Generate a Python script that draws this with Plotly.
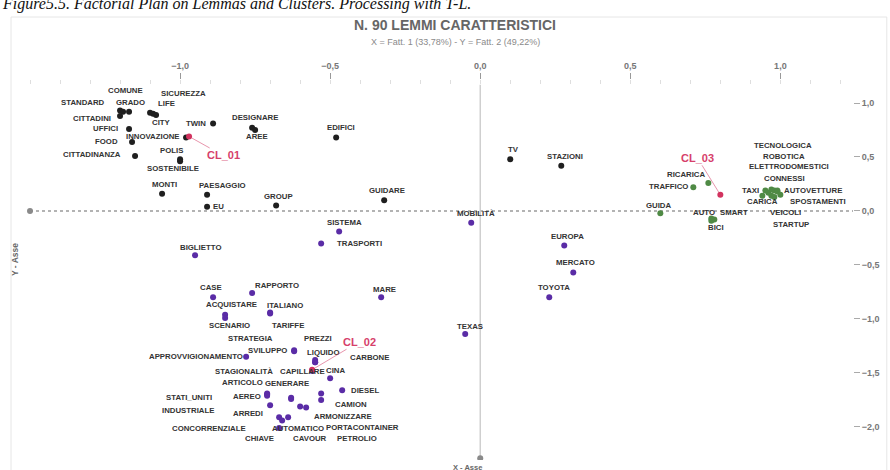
import plotly.graph_objects as go

# ---------------------------------------------------------------
# Lemmi caratteristici: coordinate sui fattori 1 (asse X) e 2 (asse Y)
# ---------------------------------------------------------------

# Cluster CL_01
lemmi_cl1 = ["COMUNE", "STANDARD", "GRADO", "LIFE", "SICUREZZA", "CITTADINI",
             "CITY", "TWIN", "DESIGNARE", "AREE", "UFFICI", "INNOVAZIONE",
             "FOOD", "CITTADINANZA", "POLIS", "SOSTENIBILE", "MONTI",
             "PAESAGGIO", "EU", "GROUP", "EDIFICI", "GUIDARE", "TV", "STAZIONI"]
fatt1_cl1 = [-1.20, -1.19, -1.17, -1.08, -1.10, -1.20, -1.09, -0.89, -0.76,
             -0.75, -1.17, -0.98, -1.16, -1.15, -1.00, -1.00, -1.06, -0.91,
             -0.91, -0.68, -0.48, -0.32, 0.10, 0.27]
fatt2_cl1 = [0.93, 0.92, 0.92, 0.89, 0.91, 0.88, 0.90, 0.81, 0.77, 0.75,
             0.76, 0.68, 0.64, 0.51, 0.48, 0.46, 0.16, 0.15, 0.04, 0.05,
             0.68, 0.10, 0.48, 0.42]

# Cluster CL_02
lemmi_cl2 = ["MOBILITÀ", "SISTEMA", "TRASPORTI", "BIGLIETTO", "MARE", "EUROPA",
             "MERCATO", "TOYOTA", "TEXAS", "CASE", "RAPPORTO", "ACQUISTARE",
             "ITALIANO", "SCENARIO", "TARIFFE", "STRATEGIA", "PREZZI",
             "SVILUPPO", "LIQUIDO", "APPROVVIGIONAMENTO", "CARBONE",
             "STAGIONALITÀ", "CAPILLARE", "CINA", "ARTICOLO", "GENERARE",
             "DIESEL", "STATI_UNITI", "AEREO", "CAMION", "INDUSTRIALE",
             "ARREDI", "ARMONIZZARE", "CONCORRENZIALE", "AUTOMATICO",
             "PORTACONTAINER", "CHIAVE", "CAVOUR", "PETROLIO"]
fatt1_cl2 = [-0.03, -0.47, -0.53, -0.95, -0.33, 0.28, 0.31, 0.23, -0.05,
             -0.89, -0.76, -0.85, -0.70, -0.85, -0.70, -0.62, -0.55, -0.62,
             -0.55, -0.78, -0.55, -0.56, -0.56, -0.50, -0.71, -0.53, -0.46,
             -0.71, -0.71, -0.53, -0.70, -0.67, -0.60, -0.67, -0.64, -0.58,
             -0.63, -0.66, -0.63]
fatt2_cl2 = [-0.11, -0.19, -0.30, -0.41, -0.80, -0.32, -0.57, -0.80, -1.14,
             -0.80, -0.76, -0.96, -0.94, -0.99, -0.95, -1.29, -1.40, -1.30,
             -1.38, -1.35, -1.40, -1.48, -1.48, -1.55, -1.69, -1.69, -1.66,
             -1.70, -1.71, -1.75, -1.80, -1.91, -1.81, -2.01, -1.91, -1.82,
             -1.73, -1.94, -1.74]

# Cluster CL_03
lemmi_cl3 = ["RICARICA", "TRAFFICO", "GUIDA", "TECNOLOGICA", "ROBOTICA",
             "ELETTRODOMESTICI", "CONNESSI", "TAXI", "AUTOVETTURE", "CARICA",
             "SPOSTAMENTI", "AUTO", "SMART", "VEICOLI", "STARTUP", "BICI"]
fatt1_cl3 = [0.76, 0.71, 0.60, 0.98, 0.99, 0.97, 0.96, 0.95, 0.99, 0.94,
             1.00, 0.77, 0.78, 0.97, 0.98, 0.77]
fatt2_cl3 = [0.26, 0.22, -0.02, 0.19, 0.18, 0.20, 0.17, 0.19, 0.19, 0.14,
             0.15, -0.07, -0.08, 0.14, 0.13, -0.09]

# Baricentri dei cluster
cluster_nomi = ["CL_01", "CL_02", "CL_03"]
cluster_fatt1 = [-0.97, -0.56, 0.80]
cluster_fatt2 = [0.69, -1.47, 0.15]

# Tick degli assi
x_tick_vals = [-1.0, -0.5, 0.0, 0.5, 1.0]
y_tick_vals = [-2.0, -1.5, -1.0, -0.5, 0.0, 0.5, 1.0]

# ---------------------------------------------------------------
# Impaginazione
# ---------------------------------------------------------------
FIG_W, FIG_H = 890, 470
M = dict(l=18, r=32, t=80, b=10)
X_RANGE = [-1.54, 1.242]
Y_RANGE = [-2.306, 1.213]
AXIS_LEFT, AXIS_TOP, AXIS_BOTTOM = -1.50, 1.17, -2.29

COL_CL1 = "#1f1f1f"
COL_CL2 = "#5a2ca6"
COL_CL3 = "#4f8a45"
COL_CENTRO = "#d2335f"
COL_TESTO = "#333333"


def paper_x(px):
    return (px - M["l"]) / (FIG_W - M["l"] - M["r"])


def paper_y(py):
    return (FIG_H - M["b"] - py) / (FIG_H - M["t"] - M["b"])


# spostamento delle etichette rispetto al punto (pixel: dx a destra, dy in basso)
offset_etichette = {
    "COMUNE": (5, -20), "STANDARD": (-40, -9), "GRADO": (1, -9),
    "LIFE": (10, -11), "SICUREZZA": (33, -19), "CITTADINI": (-28, 3),
    "CITY": (8, 9), "TWIN": (-17, 0), "DESIGNARE": (3, -10), "AREE": (2, 6),
    "UFFICI": (-24, 0), "INNOVAZIONE": (-33, -1), "FOOD": (-26, 0),
    "CITTADINANZA": (-43, -1), "POLIS": (-9, -9), "SOSTENIBILE": (-7, 7),
    "MONTI": (2, -9), "PAESAGGIO": (15, -9), "EU": (11, 0), "GROUP": (2, -9),
    "EDIFICI": (5, -10), "GUIDARE": (3, -10), "TV": (3, -10),
    "STAZIONI": (4, -9),
    "MOBILITÀ": (5, -9), "SISTEMA": (5, -9), "TRASPORTI": (38, 0),
    "BIGLIETTO": (5, -8), "MARE": (3, -8), "EUROPA": (3, -9),
    "MERCATO": (2, -10), "TOYOTA": (5, -10), "TEXAS": (5, -8),
    "CASE": (-2, -10), "RAPPORTO": (25, -8), "ACQUISTARE": (6, -10),
    "ITALIANO": (15, -7), "SCENARIO": (4, 8), "TARIFFE": (18, 12),
    "STRATEGIA": (-44, -12), "PREZZI": (3, -24), "SVILUPPO": (-27, -1),
    "LIQUIDO": (8, -8), "APPROVVIGIONAMENTO": (-50, 0), "CARBONE": (54, -5),
    "STAGIONALITÀ": (-68, 1), "CAPILLARE": (-10, 1), "CINA": (5, -8),
    "ARTICOLO": (-25, -11), "GENERARE": (-34, -10), "DIESEL": (23, 0),
    "STATI_UNITI": (-78, 3), "AEREO": (-20, 1), "CAMION": (30, 5),
    "INDUSTRIALE": (-82, 5), "ARREDI": (-31, -4), "ARMONIZZARE": (43, 10),
    "CONCORRENZIALE": (-70, 0), "AUTOMATICO": (10, 11),
    "PORTACONTAINER": (56, 20), "CHIAVE": (-32, 41), "CAVOUR": (28, 18),
    "PETROLIO": (66, 40),
    "RICARICA": (-22, -8), "TRAFFICO": (-25, -1), "GUIDA": (-2, -8),
    "TECNOLOGICA": (9, -45), "ROBOTICA": (7, -35),
    "ELETTRODOMESTICI": (18, -23), "CONNESSI": (16, -14), "TAXI": (-15, 0),
    "AUTOVETTURE": (36, 0), "CARICA": (0, 6), "SPOSTAMENTI": (38, 7),
    "AUTO": (-7, -6), "SMART": (20, -7), "VEICOLI": (14, 17),
    "STARTUP": (17, 28), "BICI": (5, 7),
}
offset_cluster = {"CL_01": (34, 19), "CL_02": (47, -28), "CL_03": (-23, -37)}

fig = go.Figure()

gruppi = [
    (lemmi_cl1, fatt1_cl1, fatt2_cl1, COL_CL1),
    (lemmi_cl2, fatt1_cl2, fatt2_cl2, COL_CL2),
    (lemmi_cl3, fatt1_cl3, fatt2_cl3, COL_CL3),
]

annotations = []
for nomi, fx, fy, col in gruppi:
    fig.add_trace(go.Scatter(
        x=fx, y=fy, mode="markers", text=nomi, hoverinfo="text",
        marker=dict(size=6, color=col, symbol="circle"),
        showlegend=False, cliponaxis=False,
    ))
    for nome, xv, yv in zip(nomi, fx, fy):
        dx, dy = offset_etichette.get(nome, (0, -9))
        annotations.append(dict(
            x=xv, y=yv, xref="x", yref="y", text=nome, showarrow=False,
            xshift=dx, yshift=-dy,
            font=dict(family="Liberation Sans", size=7.8, color=COL_TESTO,
                      weight="bold"),
        ))

# baricentri dei cluster con etichetta e linea di richiamo
fig.add_trace(go.Scatter(
    x=cluster_fatt1, y=cluster_fatt2, mode="markers", text=cluster_nomi,
    hoverinfo="text", marker=dict(size=6, color=COL_CENTRO),
    showlegend=False, cliponaxis=False,
))
for nome, xv, yv in zip(cluster_nomi, cluster_fatt1, cluster_fatt2):
    dx, dy = offset_cluster[nome]
    annotations.append(dict(
        x=xv, y=yv, xref="x", yref="y", text=nome, showarrow=True,
        arrowhead=0, arrowwidth=1, arrowcolor="rgba(214,64,106,0.55)",
        ax=dx, ay=dy, standoff=3,
        font=dict(family="Liberation Sans", size=11, color="#d6406a",
                  weight="bold"),
    ))

# titoli e didascalia
annotations += [
    dict(xref="paper", yref="paper", x=paper_x(0), y=paper_y(4),
         xanchor="left", yanchor="middle", showarrow=False,
         text="<i>Figure5.5. Factorial Plan on Lemmas and Clusters. Processing with T-L.</i>",
         font=dict(family="Liberation Serif", size=16, color="#111111")),
    dict(xref="paper", yref="paper", x=paper_x(458), y=paper_y(25),
         xanchor="center", yanchor="middle", showarrow=False,
         text="N. 90 LEMMI CARATTERISTICI",
         font=dict(family="Liberation Sans", size=14, color="#666666",
                   weight="bold")),
    dict(xref="paper", yref="paper", x=paper_x(458), y=paper_y(42),
         xanchor="center", yanchor="middle", showarrow=False,
         text="X = Fatt. 1 (33,78%) - Y = Fatt. 2 (49,22%)",
         font=dict(family="Liberation Sans", size=9, color="#8a8a8a")),
    dict(xref="paper", yref="paper", x=paper_x(15), y=paper_y(260),
         xanchor="center", yanchor="middle", showarrow=False, textangle=-90,
         text="Y - Asse",
         font=dict(family="Liberation Sans", size=8.5, color="#666666",
                   weight="bold")),
    dict(xref="paper", yref="paper", x=paper_x(470), y=paper_y(461),
         xanchor="center", yanchor="top", showarrow=False,
         text="X - Asse",
         font=dict(family="Liberation Sans", size=7.5, color="#666666",
                   weight="bold")),
]

shapes = [
    # cornice leggera del pannello
    dict(type="rect", xref="paper", yref="paper",
         x0=paper_x(11), x1=paper_x(892), y0=paper_y(17), y1=paper_y(472),
         line=dict(color="#e6e6e6", width=1), fillcolor="rgba(0,0,0,0)",
         layer="below"),
    # asse orizzontale Y = 0 (tratteggiato)
    dict(type="line", xref="x", yref="y", x0=AXIS_LEFT, x1=X_RANGE[1],
         y0=0, y1=0, line=dict(color="#9a9a9a", width=1.5, dash="dot"),
         layer="below"),
    # asse verticale X = 0
    dict(type="line", xref="x", yref="y", x0=0, x1=0,
         y0=AXIS_BOTTOM, y1=AXIS_TOP, line=dict(color="#c4c4c4", width=1.2),
         layer="below"),
    # estremi degli assi
    dict(type="circle", xref="x", yref="y", xsizemode="pixel",
         ysizemode="pixel", xanchor=AXIS_LEFT, yanchor=0,
         x0=-3, x1=3, y0=-3, y1=3, fillcolor="#8a8a8a", line_width=0),
    dict(type="circle", xref="x", yref="y", xsizemode="pixel",
         ysizemode="pixel", xanchor=0, yanchor=AXIS_BOTTOM,
         x0=-3, x1=3, y0=-3, y1=3, fillcolor="#8a8a8a", line_width=0),
]

tick_font = dict(family="Liberation Sans", size=9, color="#777777",
                 weight="bold")

fig.update_layout(
    width=FIG_W, height=FIG_H, margin=M,
    paper_bgcolor="white", plot_bgcolor="white",
    separators=",.",
    annotations=annotations, shapes=shapes,
    xaxis=dict(
        range=X_RANGE, side="top", tickvals=x_tick_vals, tickformat=".1f",
        ticks="outside", ticklen=6, tickcolor="#999999", tickwidth=1,
        showgrid=False, zeroline=False, showline=False,
        tickfont=tick_font,
        minor=dict(ticks="inside", ticklen=4, dtick=0.1,
                   tickcolor="#dedede", showgrid=False),
    ),
    yaxis=dict(
        range=Y_RANGE, side="right", tickvals=y_tick_vals, tickformat=".1f",
        ticks="outside", ticklen=6, tickcolor="#aaaaaa", tickwidth=1,
        showgrid=False, zeroline=False, showline=False,
        tickfont=tick_font,
    ),
)

fig.write_html("out.html")
